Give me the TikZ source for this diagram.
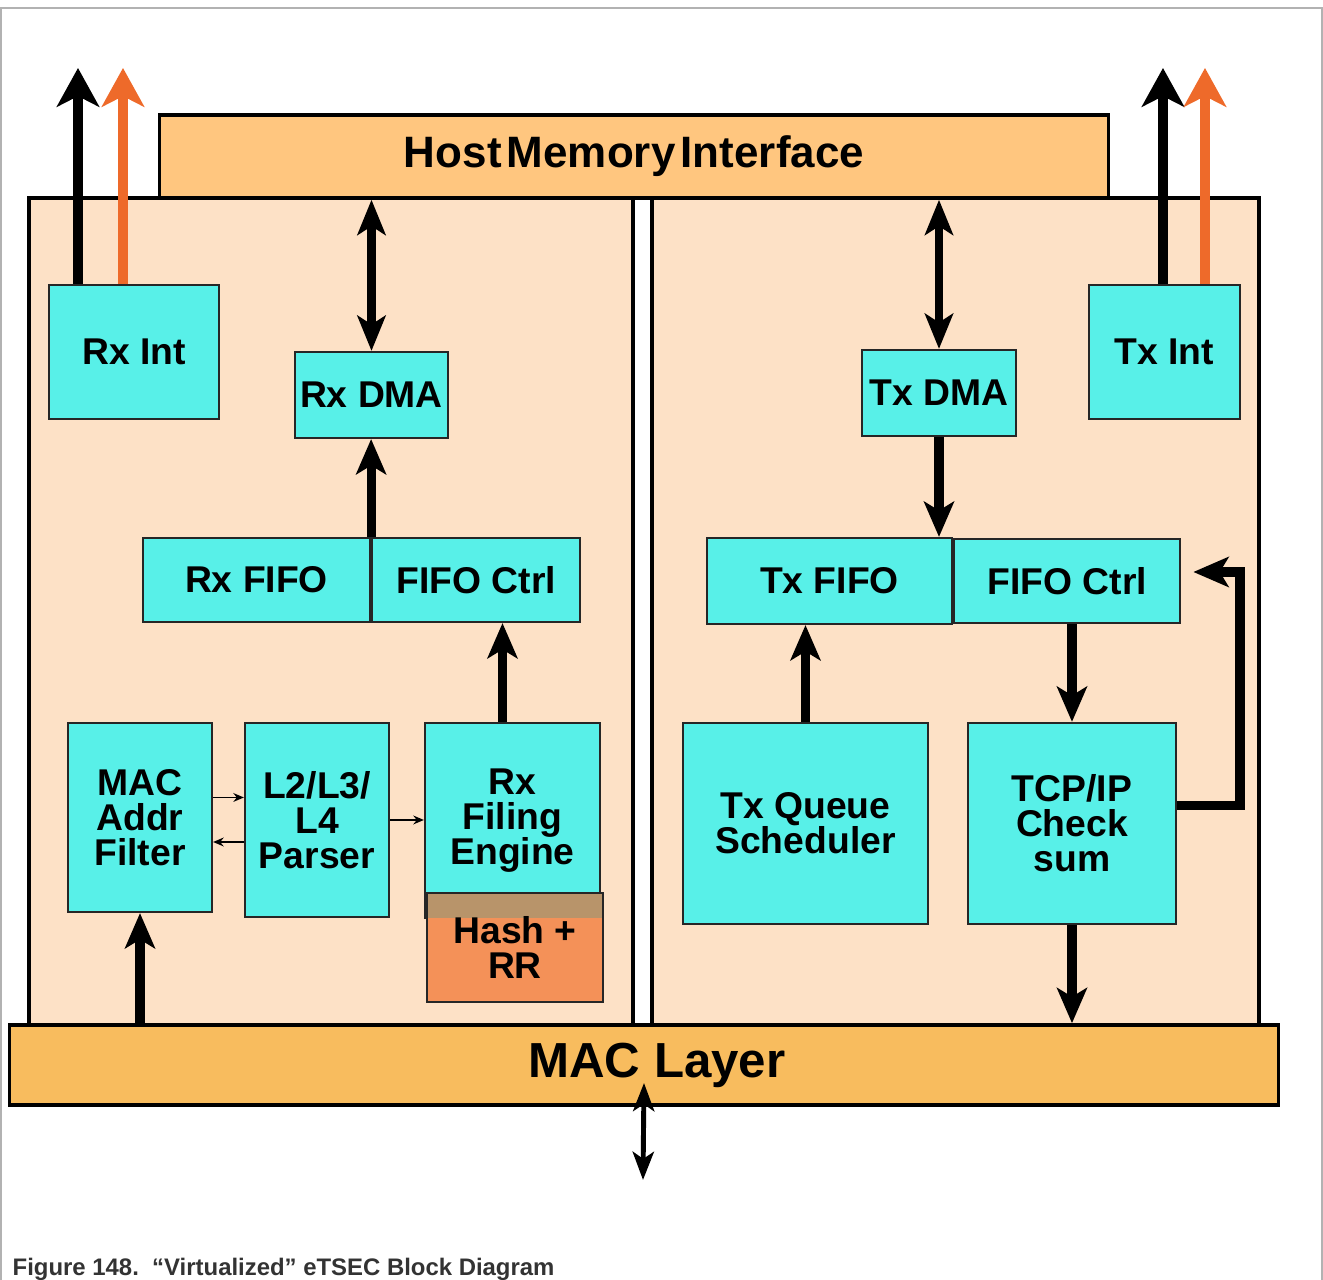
\documentclass[tikz,border=0pt]{standalone}
\usepackage{fontspec}
\setmainfont{Liberation Sans}
\usetikzlibrary{positioning, arrows.meta}

\definecolor{hostorange}{HTML}{FFC67F}
\definecolor{macorange}{HTML}{F8BC5E}
\definecolor{panelpeach}{HTML}{FDE1C6}
\definecolor{blockcyan}{HTML}{58F0E8}
\definecolor{hashorange}{HTML}{F49158}
\definecolor{hashband}{HTML}{B8946A}
\definecolor{intorange}{HTML}{EE6A2A}
\definecolor{captiongray}{HTML}{333333}

\begin{document}
\begin{tikzpicture}[
            x=0.01cm, y=-0.01cm,
            panel/.style={
                rectangle,
                draw=black,
                line width=1pt,
                fill=panelpeach,
                inner sep=0pt
            },
            bar/.style={
                rectangle,
                draw=black,
                line width=1pt,
                inner sep=0pt,
                font=\bfseries\fontsize{12.5}{14}\selectfont
            },
            block/.style={
                rectangle,
                draw=black!85,
                line width=0.6pt,
                fill=blockcyan,
                inner sep=0pt,
                align=center,
                font=\bfseries\fontsize{10.6}{10}\selectfont
            },
            arrow/.style={
                -{Stealth[length=10pt, width=8.5pt, inset=2.5pt]},
                line width=2.6pt
            },
            dblarrow/.style={
                {Stealth[length=10pt, width=8pt, inset=2.5pt]}-{Stealth[length=10pt, width=8pt, inset=2.5pt]},
                line width=2.4pt
            },
            intarrow/.style={
                -{Stealth[length=11pt, width=12pt, inset=3pt]},
                line width=2.8pt
            },
            thinarrow/.style={
                -{Stealth[length=3pt, width=2.5pt]},
                line width=0.5pt
            }
        ]
            \fill[white] (0,0) rectangle (1323,1280);
            \useasboundingbox (0,0) rectangle (1323,1280);
            \draw[gray!60, line width=0.8pt] (1,1280) -- (1,8) -- (1322,8) -- (1322,1280);

            \node [panel, minimum width=6.04cm, minimum height=8.27cm] (lpanel) at (331,611.5) {};
            \node [panel, minimum width=6.07cm, minimum height=8.27cm] (rpanel) at (955.5,611.5) {};
            \node [bar, fill=hostorange, minimum width=9.48cm, minimum height=0.83cm] (host) at (634,156.5)
                {\raisebox{-0.06cm}{Host\hspace{1.5pt}Memory\hspace{1.5pt}Interface}};
            \node [bar, fill=macorange, minimum width=12.68cm, minimum height=0.80cm,
                font=\bfseries\fontsize{14}{16}\selectfont] (maclayer) at (644,1065) {\hspace*{0.26cm}\raisebox{-0.05cm}{MAC Layer}};

            \node [block, minimum width=1.70cm, minimum height=1.34cm] (rxint) at (134,352) {Rx Int};
            \node [block, minimum width=1.53cm, minimum height=0.86cm] (rxdma) at (371.5,395) {Rx DMA};
            \node [block, minimum width=2.27cm, minimum height=0.84cm] (rxfifo) at (256.5,580) {Rx FIFO};
            \node [block, minimum width=2.08cm, minimum height=0.84cm, right=0pt of rxfifo] (rxctrl) {FIFO Ctrl};
            \node [block, minimum width=1.44cm, minimum height=1.89cm] (macfilt) at (140,817.5) {MAC\\Addr\\Filter};
            \node [block, minimum width=1.44cm, minimum height=1.94cm] (parser) at (317,820) {L2/L3/\\L4\\Parser};
            \node [block, minimum width=1.75cm, minimum height=1.95cm] (filing) at (512.5,820.5) {Rx\\Filing\\Engine};
            \node [block, fill=hashorange, minimum width=1.76cm, minimum height=1.09cm,
                path picture={\fill[hashband] (path picture bounding box.north west) rectangle ([yshift=-0.25cm]path picture bounding box.north east);}]
                (hash) at (515,947.5) {Hash +\\RR};

            \node [block, minimum width=1.54cm, minimum height=0.86cm] (txdma) at (939,393) {Tx DMA};
            \node [block, minimum width=1.51cm, minimum height=1.34cm] (txint) at (1164.5,352) {Tx Int};
            \node [block, minimum width=2.45cm, minimum height=0.86cm] (txfifo) at (829.5,581) {Tx FIFO};
            \node [block, minimum width=2.26cm, minimum height=0.84cm, right=0pt of txfifo] (txctrl) {FIFO Ctrl};
            \node [block, minimum width=2.45cm, minimum height=2.01cm] (sched) at (805.5,823.5) {Tx Queue\\Scheduler};
            \node [block, minimum width=2.08cm, minimum height=2.01cm] (csum) at (1072,823.5) {TCP/IP\\Check\\sum};

            \coordinate (rxintblack) at (78,68);
            \coordinate (rxintorange) at (123,68);
            \coordinate (txintblack) at (1163,68);
            \coordinate (txintorange) at (1205,68);
            \coordinate (loopback) at (1240,572);
            \coordinate (phy) at (643,1180);

            \draw [intarrow] (rxint.north -| rxintblack) -- (rxintblack);
            \draw [intarrow, intorange] (rxint.north -| rxintorange) -- (rxintorange);
            \draw [intarrow] (txint.north -| txintblack) -- (txintblack);
            \draw [intarrow, intorange] (txint.north -| txintorange) -- (txintorange);

            \draw [dblarrow] (rxdma.north) -- (rxdma.north |- host.south);
            \draw [arrow] (rxfifo.north east) -- (rxfifo.north east |- rxdma.south);
            \draw [arrow] ([xshift=-1mm]filing.north) -- ([xshift=-1mm]filing.north |- rxctrl.south);
            \draw [arrow] (maclayer.north -| macfilt) -- (macfilt.south);
            \draw [thinarrow] ([yshift=2mm]macfilt.east) -- ([yshift=2mm]macfilt.east -| parser.west);
            \draw [thinarrow] ([yshift=-2.2mm]parser.west) -- ([yshift=-2.2mm]parser.west -| macfilt.east);
            \draw [thinarrow] (parser.east) -- (parser.east -| filing.west);

            \draw [dblarrow] (txdma.north) -- (txdma.north |- host.south);
            \draw [arrow] (txdma.south) -- (txdma.south |- txfifo.north);
            \draw [arrow] (sched.north) -- (sched.north |- txfifo.south);
            \draw [arrow] (csum.north |- txctrl.south) -- (csum.north);
            \draw [arrow] (csum.south) -- (csum.south |- maclayer.north);
            \draw [arrow] ([yshift=1.8mm]csum.east) -| (loopback) -- ([xshift=1.2mm]txctrl.east |- loopback);

            \draw [{Stealth[length=8pt, width=6pt, inset=2pt]}-{Stealth[length=8pt, width=6pt, inset=2pt]}, line width=1.4pt]
                ([yshift=-1.8mm]maclayer.center) -- (phy);

            \node [anchor=base west, inner sep=0pt, text=captiongray, font=\bfseries\fontsize{6.8}{8}\selectfont] (caption) at (12,1276)
                {Figure 148.\ \ “Virtualized” eTSEC Block Diagram};

        \end{tikzpicture}
\end{document}
